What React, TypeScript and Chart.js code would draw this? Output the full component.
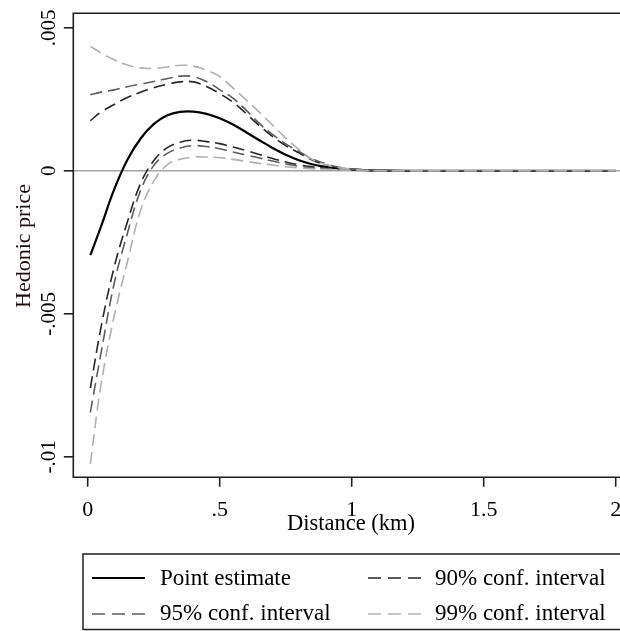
import React, { useEffect, useRef } from "react";
import { Chart, registerables } from "chart.js";

Chart.register(...registerables);

// ---------- data ----------
const distanceKm = [0.01, 0.05, 0.1, 0.15, 0.2, 0.25, 0.3, 0.35, 0.4, 0.45, 0.5, 0.55, 0.6, 0.65, 0.7, 0.75, 0.8, 0.85, 0.9, 0.95, 1.0, 1.05, 1.1, 1.2, 1.4, 1.6, 1.8, 2.0];

const pointEstimate = [-0.00295, -0.00196, -0.00066, 0.00038, 0.00112, 0.00163, 0.00193, 0.00206, 0.00207, 0.00199, 0.00184, 0.00162, 0.00135, 0.00107, 0.0008, 0.00056, 0.00037, 0.00023, 0.00014, 0.00008, 0.00005, 0.00002, 0.00001, 0, 0, 0, 0, 0];

const ci90Upper = [0.00175, 0.00205, 0.00232, 0.00256, 0.00275, 0.0029, 0.00302, 0.00311, 0.00311, 0.00295, 0.0027, 0.0024, 0.002, 0.00158, 0.0012, 0.00088, 0.00063, 0.00038, 0.00022, 0.00011, 0.00005, 0.00002, 0.00001, 0, 0, 0, 0, 0];
const ci90Lower = [-0.0076, -0.0055, -0.00338, -0.0018, -0.00045, 0.00035, 0.0008, 0.001, 0.00107, 0.00102, 0.00095, 0.00083, 0.00071, 0.00057, 0.00043, 0.00031, 0.00021, 0.00014, 0.00009, 0.00005, 0.00003, 0.00002, 0.00001, 0, 0, 0, 0, 0];

const ci95Upper = [0.00266, 0.00275, 0.00283, 0.00294, 0.00303, 0.00312, 0.00322, 0.00331, 0.00329, 0.00312, 0.00284, 0.00254, 0.00212, 0.00166, 0.00127, 0.00094, 0.00068, 0.00042, 0.00025, 0.00013, 0.00006, 0.00003, 0.00001, 0, 0, 0, 0, 0];
const ci95Lower = [-0.00845, -0.0064, -0.00395, -0.0022, -0.0007, 0.00018, 0.0006, 0.0008, 0.00088, 0.00085, 0.00077, 0.00066, 0.00055, 0.00045, 0.00034, 0.00024, 0.00016, 0.0001, 0.00006, 0.00004, 0.00002, 0.00001, 0, 0, 0, 0, 0, 0];

const ci99Upper = [0.00435, 0.00413, 0.00388, 0.0037, 0.0036, 0.00358, 0.00363, 0.00369, 0.00366, 0.00352, 0.0033, 0.0029, 0.00248, 0.00205, 0.0016, 0.00115, 0.00075, 0.0004, 0.00022, 0.00011, 0.00005, 0.00002, 0.00001, 0, 0, 0, 0, 0];
const ci99Lower = [-0.01025, -0.0075, -0.0051, -0.0032, -0.0014, -0.00037, 0.0002, 0.0004, 0.00048, 0.00048, 0.00046, 0.0004, 0.00033, 0.00026, 0.0002, 0.00014, 0.0001, 0.00007, 0.00005, 0.00003, 0.00001, 0, 0, 0, 0, 0, 0, 0];

const xTickValues = [0, 0.5, 1, 1.5, 2];
const xTickLabels = ["0", ".5", "1", "1.5", "2"];
const yTickValues = [0.005, 0, -0.005, -0.01];
const yTickLabels = [".005", "0", "-.005", "-.01"];

const xTitle = "Distance (km)";
const yTitle = "Hedonic price";
const legendLabels = ["Point estimate", "90% conf. interval", "95% conf. interval", "99% conf. interval"];

// ---------- styles ----------
const FONT = "'Liberation Serif', 'Times New Roman', serif";
const COL_PE = "#000000";
const COL_90 = "#262626";
const COL_95 = "#5c5c5c";
const COL_99 = "#b0b0b0";
const DASH = [12, 6];

const toPts = (ys: number[]) => ys.map((y, i) => ({ x: distanceKm[i], y }));

const framePlugin = {
  id: "stataFrame",
  beforeDatasetsDraw(chart: any) {
    const { ctx, chartArea } = chart;
    const y = chart.scales.y;
    const y0 = y.getPixelForValue(0);
    ctx.save();
    ctx.strokeStyle = "#a3a3a3";
    ctx.lineWidth = 1.6;
    ctx.beginPath();
    ctx.moveTo(chartArea.left, y0);
    ctx.lineTo(chartArea.right, y0);
    ctx.stroke();
    ctx.restore();
  },
  afterDraw(chart: any) {
    const { ctx, chartArea } = chart;
    const xs = chart.scales.x;
    const ys = chart.scales.y;
    const { left, top, right, bottom } = chartArea;
    ctx.save();
    // frame
    ctx.strokeStyle = "#1f1f1f";
    ctx.lineWidth = 1.6;
    ctx.beginPath();
    ctx.moveTo(right + 5, top);
    ctx.lineTo(left, top);
    ctx.lineTo(left, bottom);
    ctx.lineTo(right + 5, bottom);
    ctx.stroke();

    // y ticks + labels
    ctx.fillStyle = "#000";
    ctx.font = `21px ${FONT}`;
    yTickValues.forEach((v, i) => {
      const py = ys.getPixelForValue(v);
      ctx.beginPath();
      ctx.moveTo(left, py);
      ctx.lineTo(left - 9.5, py);
      ctx.stroke();
      ctx.save();
      ctx.translate(55, py);
      ctx.rotate(-Math.PI / 2);
      ctx.textAlign = "center";
      ctx.textBaseline = "alphabetic";
      ctx.fillText(yTickLabels[i], 0, 0);
      ctx.restore();
    });

    // x ticks + labels
    xTickValues.forEach((v, i) => {
      const px = xs.getPixelForValue(v);
      ctx.beginPath();
      ctx.moveTo(px, bottom);
      ctx.lineTo(px, bottom + 9.5);
      ctx.stroke();
      ctx.textAlign = "center";
      ctx.textBaseline = "alphabetic";
      ctx.font = `22px ${FONT}`;
      ctx.fillText(xTickLabels[i], px, 516);
    });

    // axis titles
    ctx.font = `22.5px ${FONT}`;
    ctx.textAlign = "center";
    ctx.fillText(xTitle, 351, 530);
    ctx.save();
    ctx.translate(30, 246);
    ctx.rotate(-Math.PI / 2);
    ctx.fillStyle = "#1e0a0a";
    ctx.font = `22px ${FONT}`;
    ctx.fillText(yTitle, 0, 0);
    ctx.restore();

    // legend
    ctx.strokeStyle = "#1f1f1f";
    ctx.lineWidth = 1.5;
    ctx.strokeRect(83, 554, 560, 75.5);
    const entries = [
      { label: legendLabels[0], color: COL_PE, dash: [] as number[], x: 92, y: 578, ty: 585 },
      { label: legendLabels[1], color: COL_90, dash: [13, 7], x: 368, y: 578, ty: 585 },
      { label: legendLabels[2], color: COL_95, dash: [13, 7], x: 92, y: 614, ty: 620 },
      { label: legendLabels[3], color: COL_99, dash: [13, 7], x: 368, y: 614, ty: 620 },
    ];
    ctx.font = `23px ${FONT}`;
    ctx.textAlign = "left";
    entries.forEach((e) => {
      ctx.save();
      ctx.strokeStyle = e.color;
      ctx.lineWidth = e.dash.length ? 1.6 : 2;
      ctx.setLineDash(e.dash);
      ctx.beginPath();
      ctx.moveTo(e.x, e.y);
      ctx.lineTo(e.x + 53, e.y);
      ctx.stroke();
      ctx.restore();
      ctx.fillStyle = "#000";
      ctx.fillText(e.label, e.x + (e.x < 200 ? 68 : 67), e.ty);
    });
    ctx.restore();
  },
};

export default function App() {
  const ref = useRef<HTMLCanvasElement | null>(null);

  useEffect(() => {
    document.body.style.margin = "0";
    const canvas = ref.current;
    if (!canvas) return;
    const line = (data: number[], color: string, dash: number[], width: number) => ({
      data: toPts(data),
      borderColor: color,
      borderDash: dash,
      borderWidth: width,
      pointRadius: 0,
      fill: false,
      tension: 0.4,
    });
    const chart = new Chart(canvas, {
      type: "line",
      data: {
        datasets: [
          { label: "99% upper", ...line(ci99Upper, COL_99, DASH, 1.6) },
          { label: "99% lower", ...line(ci99Lower, COL_99, DASH, 1.6) },
          { label: "95% upper", ...line(ci95Upper, COL_95, DASH, 1.6) },
          { label: "95% lower", ...line(ci95Lower, COL_95, DASH, 1.6) },
          { label: "90% upper", ...line(ci90Upper, COL_90, DASH, 1.6) },
          { label: "90% lower", ...line(ci90Lower, COL_90, DASH, 1.6) },
          { label: "Point estimate", ...line(pointEstimate, COL_PE, [], 2.2) },
        ],
      },
      options: {
        animation: false,
        responsive: false,
        devicePixelRatio: 1,
        layout: { padding: { left: 73.3, top: 13.3, right: 0, bottom: 153.7 } },
        plugins: { legend: { display: false }, tooltip: { enabled: false } },
        scales: {
          x: { type: "linear", display: false, min: -0.0545, max: 2.0163 },
          y: { type: "linear", display: false, min: -0.010717, max: 0.005507 },
        },
      },
      plugins: [framePlugin],
    });
    return () => chart.destroy();
  }, []);

  return (
    <div style={{ position: "absolute", left: 0, top: 0, width: 620, height: 631, background: "#fff" }}>
      <canvas ref={ref} width={620} height={631} style={{ width: 620, height: 631, display: "block" }} />
    </div>
  );
}
